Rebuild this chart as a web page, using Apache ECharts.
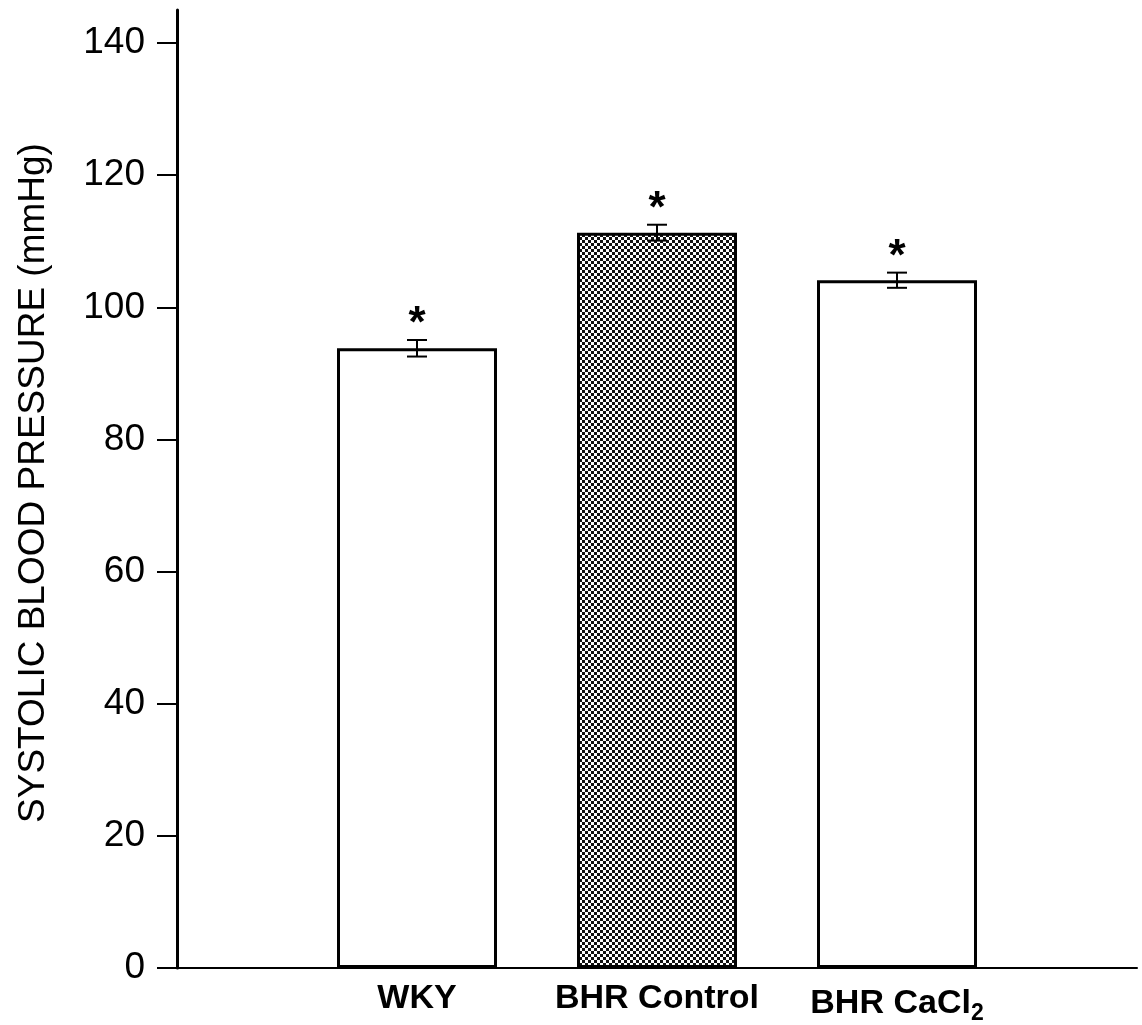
<!DOCTYPE html>
<html>
<head>
<meta charset="utf-8">
<script src="https://cdn.jsdelivr.net/npm/echarts@6/dist/echarts.min.js"></script>
<style>
html,body{margin:0;padding:0;background:#fff;}
#chart{width:1142px;height:1025px;}
</style>
</head>
<body>
<div id="chart"></div>
<script>
// ---- data ----
const categories = ['WKY', 'BHR Control', 'BHR CaCl2'];
const meanValues = [93.8, 111.3, 104.1];
const errValues = [1.25, 1.2, 1.15];
const significant = [true, true, true];
const yTickValues = [0, 20, 40, 60, 80, 100, 120, 140];
const yAxisTitle = 'SYSTOLIC BLOOD PRESSURE (mmHg)';

// ---- styles ----
const FONT = '"Liberation Sans", Arial, Helvetica, sans-serif';
function checker() {
  const c = document.createElement('canvas');
  c.width = 6; c.height = 6;
  const g = c.getContext('2d');
  g.fillStyle = '#ffffff'; g.fillRect(0, 0, 6, 6);
  g.fillStyle = '#111111';
  g.fillRect(0, 0, 3, 3); g.fillRect(3, 3, 3, 3);
  return c;
}
const patternFill = { image: checker(), repeat: 'repeat' };
const barFills = ['#ffffff', patternFill, '#ffffff'];

// padded category list so bars sit at 1/4, 2/4, 3/4 of the axis
const axisCats = [''].concat(categories).concat(['']);

const barData = meanValues.map((v, i) => ({
  value: [categories[i], v],
  itemStyle: { color: barFills[i], borderColor: '#000', borderWidth: 3 }
}));
const errData = meanValues.map((v, i) => [categories[i], v - errValues[i], v + errValues[i], significant[i] ? 1 : 0]);

const chart = echarts.init(document.getElementById('chart'), null, { renderer: 'canvas' });
chart.setOption({
  animation: false,
  backgroundColor: '#fff',
  grid: { left: 177, right: 5, top: 10, bottom: 57, containLabel: false },
  xAxis: {
    type: 'category',
    data: axisCats,
    boundaryGap: false,
    axisLine: { lineStyle: { color: '#000', width: 2 } },
    axisTick: { show: false },
    splitLine: { show: false },
    axisLabel: {
      margin: 14,
      interval: 0,
      formatter: function (v) {
        if (v === 'BHR CaCl2') return '{b|BHR CaCl}{s|2}';
        return '{b|' + v + '}';
      },
      rich: {
        b: { fontFamily: FONT, fontSize: 34, fontWeight: 'bold', color: '#000' },
        s: { fontFamily: FONT, fontSize: 23, fontWeight: 'bold', color: '#000', padding: [20, 0, 0, 0] }
      }
    }
  },
  yAxis: {
    type: 'value',
    min: 0,
    max: 145,
    name: yAxisTitle,
    nameLocation: 'middle',
    nameGap: 125,
    nameRotate: 90,
    nameTextStyle: { fontFamily: FONT, fontSize: 37, color: '#000', padding: [0, 0, 0, 12] },
    axisLine: { show: true, lineStyle: { color: '#000', width: 3 } },
    axisTick: { show: true, inside: false, length: 20, lineStyle: { color: '#000', width: 2 }, customValues: yTickValues },
    axisLabel: { margin: 32, fontFamily: FONT, fontSize: 37, color: '#000', customValues: yTickValues },
    splitLine: { show: false }
  },
  series: [
    {
      type: 'bar',
      data: barData,
      barWidth: 160,
      z: 2
    },
    {
      type: 'custom',
      z: 5,
      data: errData,
      encode: { x: 0, y: [1, 2] },
      renderItem: function (params, api) {
        const x = api.coord([api.value(0), 0])[0];
        const lo = api.coord([api.value(0), api.value(1)])[1];
        const hi = api.coord([api.value(0), api.value(2)])[1];
        const cap = 10;
        const st = { stroke: '#000', lineWidth: 2 };
        const children = [
          { type: 'line', shape: { x1: x, y1: lo, x2: x, y2: hi }, style: st },
          { type: 'line', shape: { x1: x - cap, y1: lo, x2: x + cap, y2: lo }, style: st },
          { type: 'line', shape: { x1: x - cap, y1: hi, x2: x + cap, y2: hi }, style: st }
        ];
        if (api.value(3)) {
          children.push({
            type: 'text',
            style: { text: '*', x: x, y: hi - 15, align: 'center', verticalAlign: 'middle',
                     font: 'bold 44px ' + FONT, fill: '#000' }
          });
        }
        return { type: 'group', children: children };
      }
    }
  ]
});
</script>
</body>
</html>
